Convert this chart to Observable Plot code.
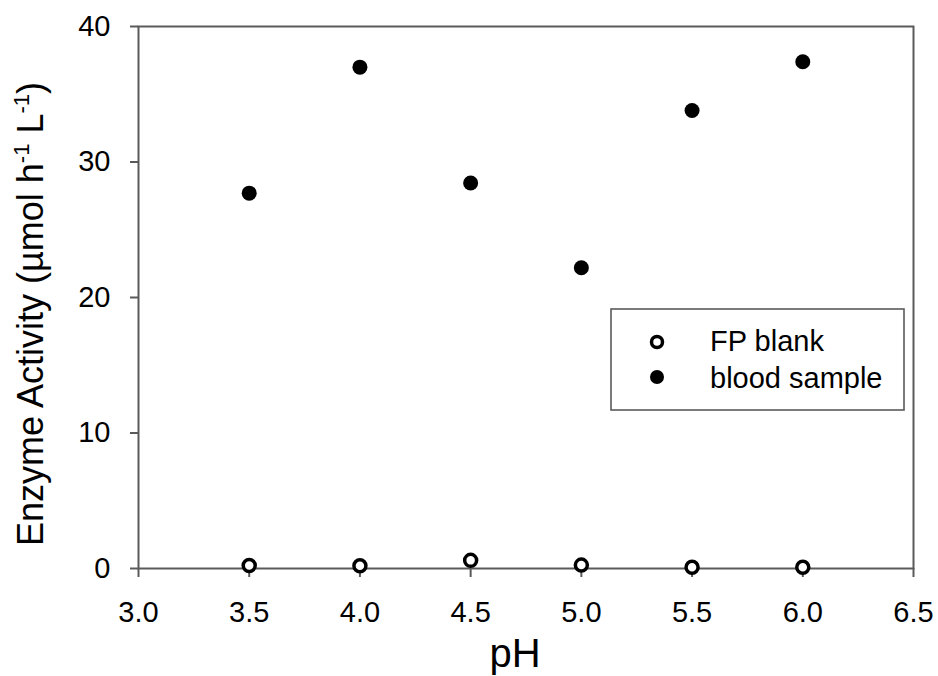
<!DOCTYPE html>
<html>
<head>
<meta charset="utf-8">
<script src="https://cdn.jsdelivr.net/npm/d3@7"></script>
<script src="https://cdn.jsdelivr.net/npm/@observablehq/plot@0.6"></script>
<style>
  html, body { margin: 0; padding: 0; background: #fff; }
  #chart { width: 938px; height: 676px; }
</style>
</head>
<body>
<div id="chart"></div>
<script>
// pH values tested and the measured enzyme activity (µmol h-1 L-1)
const pH = [3.5, 4.0, 4.5, 5.0, 5.5, 6.0];
const fpBlank = [0.22, 0.2, 0.6, 0.25, 0.1, 0.1];
const bloodSample = [27.7, 37.0, 28.45, 22.2, 33.8, 37.4];

const xTicks = [3.0, 3.5, 4.0, 4.5, 5.0, 5.5, 6.0, 6.5];
const yTicks = [0, 10, 20, 30, 40];

const seriesNames = ["FP blank", "blood sample"];

const blankRows = pH.map((p, i) => ({pH: p, activity: fpBlank[i]}));
const bloodRows = pH.map((p, i) => ({pH: p, activity: bloodSample[i]}));

const font = "'Liberation Sans', Arial, sans-serif";
const axisColor = "#5a5a5a";

const chart = Plot.plot({
  width: 938,
  height: 676,
  marginLeft: 138,
  marginRight: 25,
  marginTop: 26,
  marginBottom: 108,
  style: {fontFamily: font, fontSize: "29px", color: "black", background: "white"},
  x: {domain: [3.0, 6.5], label: null},
  y: {domain: [0, 40], label: null},
  marks: [
    Plot.frame({stroke: axisColor, strokeWidth: 2}),
    Plot.axisX({ticks: xTicks, tickFormat: d3.format(".1f"), tickSize: 9, tickPadding: 24,
                stroke: axisColor, strokeWidth: 2, fill: "black", fontSize: 29, label: null}),
    Plot.axisY({ticks: yTicks, tickSize: 8, tickPadding: 20,
                stroke: axisColor, strokeWidth: 2, fill: "black", fontSize: 29, label: null}),
    Plot.dot(blankRows, {x: "pH", y: "activity", r: 6, stroke: "black", strokeWidth: 3.5, fill: "white"}),
    Plot.dot(bloodRows, {x: "pH", y: "activity", r: 7.5, fill: "black", stroke: "none"})
  ]
});

document.getElementById("chart").appendChild(chart);

const svg = d3.select(chart);

// Axis titles
svg.append("text")
  .attr("x", 515).attr("y", 667)
  .attr("text-anchor", "middle")
  .attr("font-family", font).attr("font-size", 40).attr("fill", "black")
  .text("pH");

const yTitle = svg.append("text")
  .attr("transform", "translate(43,314) rotate(-90)")
  .attr("text-anchor", "middle")
  .attr("font-family", font).attr("font-size", 36).attr("fill", "black");
yTitle.append("tspan").text("Enzyme Activity (µmol h");
yTitle.append("tspan").attr("dy", -14).attr("font-size", 22).text("-1");
yTitle.append("tspan").attr("dy", 14).text(" L");
yTitle.append("tspan").attr("dy", -14).attr("font-size", 22).text("-1");
yTitle.append("tspan").attr("dy", 14).text(")");

// Legend box
const legend = svg.append("g").attr("text-anchor", "start");
legend.append("rect")
  .attr("x", 611).attr("y", 309).attr("width", 293).attr("height", 101)
  .attr("fill", "white").attr("stroke", axisColor).attr("stroke-width", 1.6);
const entries = [
  {name: seriesNames[0], cy: 342, base: 351, open: true},
  {name: seriesNames[1], cy: 377, base: 388, open: false}
];
for (const e of entries) {
  legend.append("circle")
    .attr("cx", 657).attr("cy", e.cy)
    .attr("r", e.open ? 5.5 : 7)
    .attr("fill", e.open ? "white" : "black")
    .attr("stroke", e.open ? "black" : "none")
    .attr("stroke-width", 3.5);
  legend.append("text")
    .attr("x", 710).attr("y", e.base)
    .attr("text-anchor", "start")
    .attr("font-family", font).attr("font-size", 29).attr("fill", "black")
    .text(e.name);
}
</script>
</body>
</html>
